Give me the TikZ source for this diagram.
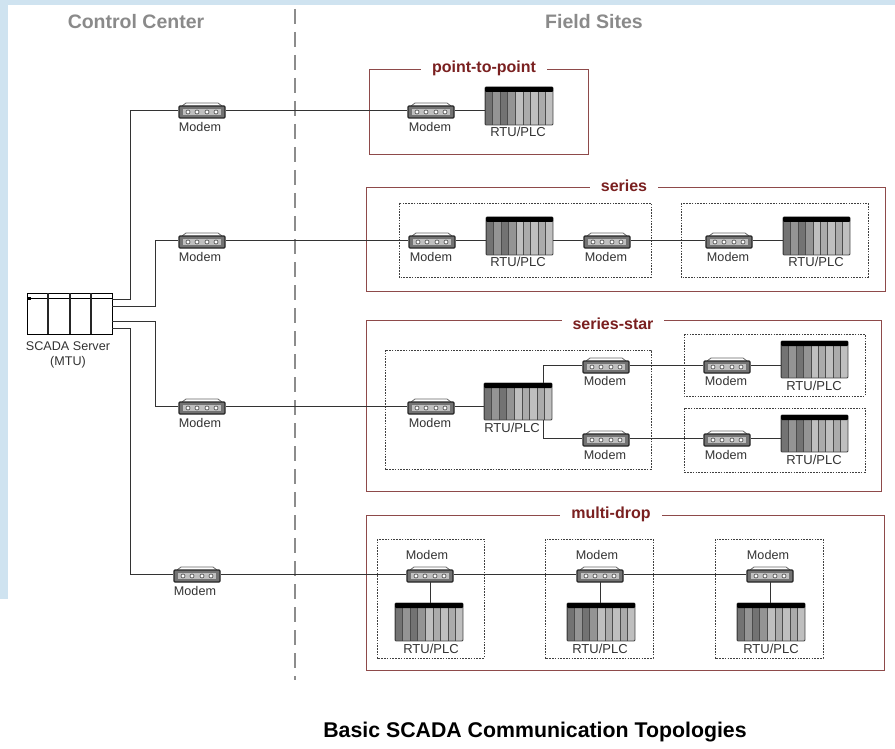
\documentclass[tikz,border=0pt]{standalone}
\usepackage{fontspec}
\setmainfont{Liberation Sans}
\definecolor{bgblue}{HTML}{CFE3F0}
\definecolor{maroon}{HTML}{7A2020}
\definecolor{framec}{HTML}{8E4A4A}
\definecolor{lbl}{HTML}{333333}
\definecolor{headc}{HTML}{8A8A8A}
\tikzset{
  wire/.style={draw=black!80,line width=0.95pt},
  lab/.style={font=\fontsize{12.6}{14}\selectfont,text=lbl,inner sep=0pt},
  rtulab/.style={font=\fontsize{13}{14}\selectfont,text=lbl,inner sep=0pt},
  frame/.style={draw=framec,line width=0.95pt},
  site/.style={draw=black!75,line width=0.9pt,dash pattern=on 1.6pt off 1.2pt},
  ftitle/.style={fill=white,text=maroon,font=\bfseries\fontsize{16}{18}\selectfont,inner xsep=11pt,inner ysep=1pt},
  head/.style={text=headc,font=\bfseries\fontsize{19.5}{22}\selectfont,inner sep=0pt},
  modembody/.style={minimum width=47pt,minimum height=8pt,inner sep=0pt},
  rtubody/.style={inner sep=0pt}
}
% name, x, y
\newcommand{\modemat}[3]{%
  \draw[black!60,fill=white,line width=0.8pt] (#2-20,#3-4) -- (#2-16,#3-7) -- (#2+16,#3-7) -- (#2+20,#3-4);
  \draw[black!85,fill=black!55,line width=1.2pt,rounded corners=1pt] (#2-23,#3-4) rectangle (#2+23,#3+8);
  \fill[black!25] (#2-19,#3-1) rectangle (#2+19,#3+5);
  \foreach \k in {-14,-5,5,14}{\fill[white,draw=black!75,line width=0.6pt] (#2+\k,#3+2) circle (2pt);}
  \node[modembody] (#1) at (#2,#3) {};
  \coordinate (#1b) at (#2,#3+8);
}
% name, x left, y top, width, height
\newcommand{\rtuat}[5]{%
  \node[rtubody,minimum width=#4 pt,minimum height=#5 pt,anchor=north west] (#1) at (#2,#3) {};
  \foreach \k/\g in {0/55,1/42,2/55,3/42,4/25,5/33,6/25,7/33,8/25}{
    \fill[black!\g] ({#2+\k*#4/9},#3) rectangle ({#2+(\k+1)*#4/9},#3+#5);
    \draw[black!70,line width=0.5pt] ({#2+\k*#4/9},#3) -- ({#2+\k*#4/9},#3+#5);
  }
  \draw[black!75,line width=0.9pt,rounded corners=1pt] (#2,#3) rectangle (#2+#4,#3+#5);
  \fill[black,rounded corners=1pt] (#2,#3) rectangle (#2+#4,#3+5);
}
\begin{document}
\begin{tikzpicture}[x=1pt,y=-1pt]
\useasboundingbox (0,0) rectangle (895,749);
\fill[bgblue] (0,0) rectangle (895,749);
\fill[white] (8,5) rectangle (895,749);
\fill[white] (0,599) rectangle (8,749);

\node[head] (hcc) at (136,22) {Control Center};
\node[head] (hfs) at (594,22) {Field Sites};
\coordinate (divtop) at (295,9);
\coordinate (divbot) at (295,680);
\draw[black!45,line width=1.8pt,dash pattern=on 15pt off 8pt] (divtop) -- (divbot);

% frames
\draw[frame] (369,69) rectangle (588,154);
\node[ftitle] (t1) at (484,68) {point-to-point};
\draw[frame] (366,187) rectangle (885,291);
\node[ftitle] (t2) at (624,186) {series};
\draw[frame] (366,320) rectangle (881,491);
\node[ftitle] (t3) at (613,324) {series-star};
\draw[frame] (366,515) rectangle (884,670);
\node[ftitle] (t4) at (611,514) {multi-drop};

% dashed site boxes
\draw[site] (399,203) rectangle (651,277);
\draw[site] (681,203) rectangle (868,277);
\draw[site] (385,350) rectangle (651,469);
\draw[site] (684,334) rectangle (865,396);
\draw[site] (684,408) rectangle (865,472);
\draw[site] (377,539) rectangle (484,658);
\draw[site] (545,539) rectangle (653,658);
\draw[site] (715,539) rectangle (823,658);

% server
\node[draw=black,line width=1.2pt,minimum width=85pt,minimum height=41pt,inner sep=0pt,anchor=north west,fill=white] (srv) at (27,293) {};
\draw[black,line width=1pt] (27,298) -- (112,298);
\foreach \x in {48,70,91}{\draw[black!85,line width=1.1pt] (\x,293) -- (\x,334);}
\fill[black] (28,297) rectangle (31,299.5);
\node[lab] (srvl1) at (68,346) {SCADA Server};
\node[lab] (srvl2) at (68,362) {(MTU)};

\coordinate (s1) at (112,299);
\coordinate (s2) at (112,306);
\coordinate (s3) at (112,321);
\coordinate (s4) at (112,328);

% devices
\modemat{ma}{202}{110}
\modemat{mb}{202}{240}
\modemat{mc}{202}{406}
\modemat{md}{197}{574}
\node[lab] at (200,127) {Modem};
\node[lab] at (200,257) {Modem};
\node[lab] at (200,423) {Modem};
\node[lab] at (195,591) {Modem};

% point to point
\modemat{p1}{431}{110}
\rtuat{pr}{485}{87}{68}{38}
\node[lab] at (430,127) {Modem};
\node[rtulab] at (518,132) {RTU/PLC};

% series
\modemat{s1m}{432}{240}
\rtuat{s1r}{486}{217}{67}{38}
\modemat{s2m}{607}{240}
\modemat{s3m}{729}{240}
\rtuat{s3r}{783}{217}{67}{38}
\node[lab] at (431,257) {Modem};
\node[rtulab] at (518,262) {RTU/PLC};
\node[lab] at (606,257) {Modem};
\node[lab] at (728,257) {Modem};
\node[rtulab] at (816,262) {RTU/PLC};

% series-star
\modemat{x1m}{431}{406}
\rtuat{x1r}{484}{383}{68}{37}
\modemat{x2m}{606}{365}
\modemat{x3m}{606}{438}
\modemat{x4m}{727}{365}
\modemat{x5m}{727}{438}
\rtuat{x4r}{781}{341}{67}{37}
\rtuat{x5r}{781}{415}{67}{37}
\node[lab] at (430,423) {Modem};
\node[rtulab] at (512,428) {RTU/PLC};
\node[lab] at (605,381) {Modem};
\node[lab] at (605,455) {Modem};
\node[lab] at (726,381) {Modem};
\node[lab] at (726,455) {Modem};
\node[rtulab] at (814,386) {RTU/PLC};
\node[rtulab] at (814,460) {RTU/PLC};
\coordinate (x1t) at (543,383);
\coordinate (x1b) at (543,420);

% multi-drop
\modemat{d1m}{430}{574}
\modemat{d2m}{600}{574}
\modemat{d3m}{770}{574}
\rtuat{d1r}{395}{603}{68}{38}
\rtuat{d2r}{567}{603}{68}{38}
\rtuat{d3r}{737}{603}{68}{38}
\node[lab] at (427,555) {Modem};
\node[lab] at (597,555) {Modem};
\node[lab] at (768,555) {Modem};
\node[rtulab] at (431,649) {RTU/PLC};
\node[rtulab] at (600,649) {RTU/PLC};
\node[rtulab] at (771,649) {RTU/PLC};

% connectors
\draw[wire] (s1) -| (130,110) -- (ma.west);
\draw[wire] (s2) -| (155,240) -- (mb.west);
\draw[wire] (s3) -| (155,406) -- (mc.west);
\draw[wire] (s4) -| (130,574) -- (md.west);
\draw[wire] (ma.east) -- (p1.west);
\draw[wire] (p1.east) -- (p1.east -| pr.west);
\draw[wire] (mb.east) -- (s1m.west);
\draw[wire] (s1m.east) -- (s1m.east -| s1r.west);
\draw[wire] (s1m.east -| s1r.east) -- (s2m.west);
\draw[wire] (s2m.east) -- (s3m.west);
\draw[wire] (s3m.east) -- (s3m.east -| s3r.west);
\draw[wire] (mc.east) -- (x1m.west);
\draw[wire] (x1m.east) -- (x1m.east -| x1r.west);
\draw[wire] (x1t) |- (x2m.west);
\draw[wire] (x1b) |- (x3m.west);
\draw[wire] (x2m.east) -- (x4m.west);
\draw[wire] (x3m.east) -- (x5m.west);
\draw[wire] (x4m.east) -- (x4m.east -| x4r.west);
\draw[wire] (x5m.east) -- (x5m.east -| x5r.west);
\draw[wire] (md.east) -- (d1m.west);
\draw[wire] (d1m.east) -- (d2m.west);
\draw[wire] (d2m.east) -- (d3m.west);
\draw[wire] (d1mb) -- (d1mb |- d1r.north);
\draw[wire] (d2mb) -- (d2mb |- d2r.north);
\draw[wire] (d3mb) -- (d3mb |- d3r.north);

\node[font=\bfseries\fontsize{21.3}{24}\selectfont,inner sep=0pt] (cap) at (535,732) {Basic SCADA Communication Topologies};
\end{tikzpicture}
\end{document}
